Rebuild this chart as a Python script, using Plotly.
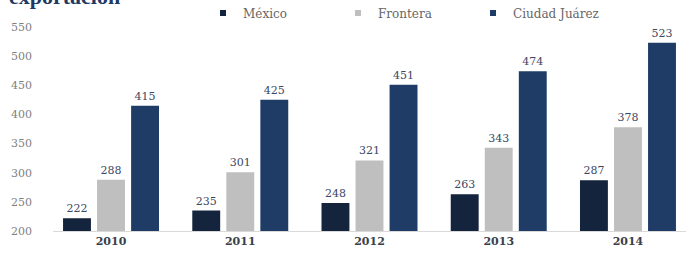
import plotly.graph_objects as go

years = ["2010", "2011", "2012", "2013", "2014"]
mexico = [222, 235, 248, 263, 287]
frontera = [288, 301, 321, 343, 378]
juarez = [415, 425, 451, 474, 523]
series_names = ["México", "Frontera", "Ciudad Juárez"]
colors = ["#15243d", "#bfbfbf", "#1f3c66"]
y_ticks = [200, 250, 300, 350, 400, 450, 500, 550]

W, H = 686, 254
ml, mr, mt, mb = 53, 0, 27, 23
FONT = "DejaVu Serif"

fig = go.Figure()
for name, vals, col in zip(series_names, [mexico, frontera, juarez], colors):
    fig.add_trace(go.Bar(
        x=years, y=vals, name=name, marker_color=col, marker_line_width=0,
        text=[str(v) for v in vals], textposition="outside",
        textfont=dict(family=FONT, size=11, color="#3b4763"),
        cliponaxis=False, showlegend=False, hoverinfo="skip",
    ))
    fig.add_trace(go.Scatter(
        x=[None], y=[None], mode="markers", name=name,
        marker=dict(symbol="square", size=6, color=col), showlegend=True,
    ))

fig.update_layout(
    width=W, height=H,
    margin=dict(l=ml, r=mr, t=mt, b=mb, autoexpand=False),
    paper_bgcolor="white", plot_bgcolor="white",
    barmode="group", bargap=0.21, bargroupgap=0.18,
    font=dict(family=FONT, color="#595959"),
    legend=dict(orientation="h", xref="container", x=203 / W, xanchor="left",
                yref="container", y=1 - 13 / H, yanchor="middle",
                entrywidth=90, entrywidthmode="pixels",
                font=dict(family=FONT, size=12, color="#666666"),
                itemwidth=30, bgcolor="rgba(0,0,0,0)"),
    xaxis=dict(type="category", range=[-0.449, 4.449], showgrid=False,
               showline=True, linecolor="#d9d9d9", linewidth=1, ticks="",
               tickfont=dict(family=FONT, size=11, color="#3a3f4a", weight="bold"),
               fixedrange=True),
    yaxis=dict(range=[200, 550], tickvals=y_ticks, showgrid=False, zeroline=False,
               showline=False, ticks="", ticklabelstandoff=20,
               tickfont=dict(family=FONT, size=11, color="#7f7f7f"),
               fixedrange=True),
)
fig.add_annotation(text="<b>exportación</b>", xref="paper", yref="paper",
                   x=-(ml - 7) / (W - ml - mr), y=1, xanchor="left", yanchor="bottom",
                   yshift=16, showarrow=False,
                   font=dict(family="Liberation Serif", size=22, color="#1f3864"))
fig.write_html("out.html", config={"displayModeBar": False},
               post_script="document.body.style.margin='0';")
